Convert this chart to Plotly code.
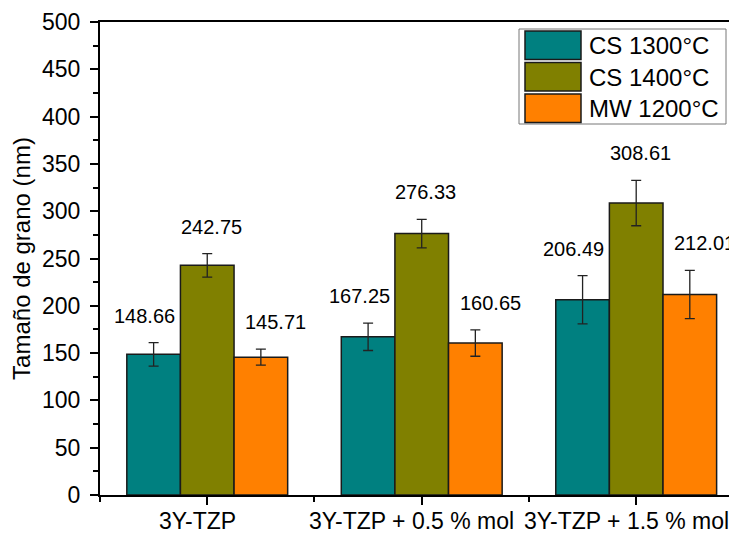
import plotly.graph_objects as go

# data
categories = ['3Y-TZP', '3Y-TZP + 0.5 % mol', '3Y-TZP + 1.5 % mol']
series_names = ['CS 1300°C', 'CS 1400°C', 'MW 1200°C']
cs1300 = [148.66, 167.25, 206.49]
cs1400 = [242.75, 276.33, 308.61]
mw1200 = [145.71, 160.65, 212.01]
cs1300_err = [12.5, 14.5, 25.5]
cs1400_err = [12.5, 15.0, 24.0]
mw1200_err = [8.5, 14.0, 25.5]
y_ticks = [0, 50, 100, 150, 200, 250, 300, 350, 400, 450, 500]

colors = ['#008080', '#808000', '#FF8000']
font = 'Liberation Sans, Arial, sans-serif'

values = [cs1300, cs1400, mw1200]
errors = [cs1300_err, cs1400_err, mw1200_err]
xpos = [1, 2, 3]
offsets = [-0.25, 0, 0.25]      # bar centre offset within a group (bargap 0.25, 3 bars)
label_shift = [-9, 4, 15]       # label nudges like the original

fig = go.Figure()
for i in range(3):
    fig.add_trace(go.Bar(
        x=xpos, y=values[i], name=series_names[i],
        marker=dict(color=colors[i], line=dict(color='#1a1a1a', width=1.5)),
        error_y=dict(type='data', array=errors[i], visible=True,
                     color='#222222', thickness=1.3, width=5),
        showlegend=False))
    # value labels above error bars
    for j in range(3):
        fig.add_annotation(x=xpos[j] + offsets[i], y=values[i][j] + errors[i][j],
                           xref='x', yref='y', text='%.2f' % values[i][j],
                           showarrow=False, yanchor='middle', yshift=27,
                           xshift=label_shift[i],
                           font=dict(family=font, size=20, color='black'))

# category labels as annotations (the original sits them a bit left of the ticks,
# and the last one runs past the plot edge)
for j in range(3):
    fig.add_annotation(x=xpos[j], y=0, xref='x', yref='paper', text=categories[j],
                       showarrow=False, yanchor='top', yshift=-11, xshift=-10,
                       font=dict(family=font, size=23, color='black'))

# custom legend box (page px -> paper coords; plot area spans x 100..737, y 22..495 on the page)
def px_x(p):
    return (p - 100) / 637.0

def px_y(p):
    return (495 - p) / 473.0

fig.add_shape(type='rect', xref='paper', yref='paper',
              x0=px_x(519), x1=px_x(726), y0=px_y(124), y1=px_y(29),
              line=dict(color='#777777', width=1), fillcolor='white', layer='above')
for i in range(3):
    top = 31 + i * 31.5
    fig.add_shape(type='rect', xref='paper', yref='paper',
                  x0=px_x(525), x1=px_x(581), y0=px_y(top + 28.5), y1=px_y(top),
                  line=dict(color='#1a1a1a', width=1.5), fillcolor=colors[i], layer='above')
    fig.add_annotation(x=px_x(587), y=px_y(top + 14.5), xref='paper', yref='paper',
                       text=series_names[i], showarrow=False, xanchor='left', yanchor='middle',
                       font=dict(family=font, size=24, color='black'))

# page body has an 8px margin, so the figure is sized/offset to compensate
fig.update_layout(
    width=729, height=525,
    margin=dict(l=92, r=0, t=14, b=38, autoexpand=False),
    plot_bgcolor='white', paper_bgcolor='white',
    barmode='group', bargap=0.25, bargroupgap=0,
    font=dict(family=font, size=23, color='black'),
)
fig.update_xaxes(
    range=[0.5, 3.47], tickvals=xpos, showticklabels=False, automargin=False,
    showline=True, linecolor='black', linewidth=2, mirror=True,
    ticks='outside', ticklen=8, tickwidth=2, tickcolor='black',
    minor=dict(tickvals=[0.5, 1.5, 2.5, 3.5], ticks='outside', ticklen=5,
               tickwidth=2, tickcolor='black'),
    showgrid=False, zeroline=False)
fig.update_yaxes(
    range=[0, 500], tickvals=y_ticks, automargin=False,
    showline=True, linecolor='black', linewidth=2,
    ticks='outside', ticklen=8, tickwidth=2, tickcolor='black',
    minor=dict(dtick=25, ticks='outside', ticklen=5, tickwidth=2, tickcolor='black'),
    showgrid=False, zeroline=False, ticklabelstandoff=5,
    title=dict(text='Tamaño de grano (nm)', font=dict(family=font, size=24, color='black'),
               standoff=6),
    tickfont=dict(family=font, size=23, color='black'))

fig.write_html("out.html")
